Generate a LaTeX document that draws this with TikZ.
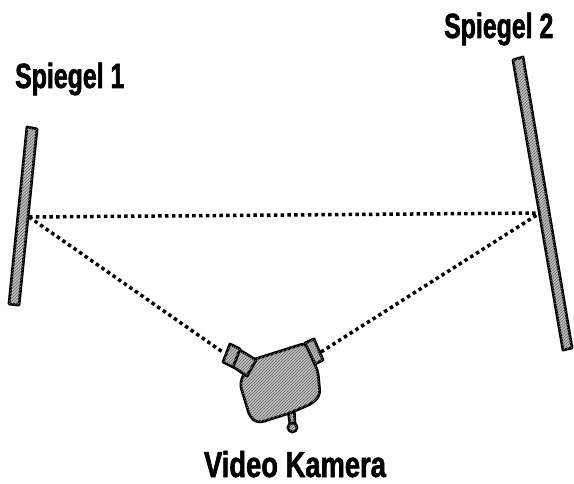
\documentclass[tikz,border=0pt]{standalone}
\usepackage{fontspec}
\newfontfamily\labelfont{Liberation Sans}[FakeStretch=0.76, FakeBold=1.6]
\newfontfamily\mirrorfont{Liberation Sans}[FakeStretch=0.71, FakeBold=1.6]
\usetikzlibrary{patterns}
\begin{document}
\begin{tikzpicture}[x=1pt,y=-1pt,
  hatchfill/.style={fill=gray!55, postaction={pattern=north east lines, pattern color=black!55}},
  outline/.style={draw=black, line width=2.8pt, line join=round},
  beam/.style={line width=3.5pt, dash pattern=on 3.5pt off 3.3pt},
  caption/.style={font=\mirrorfont\bfseries\fontsize{35}{37}\selectfont, inner sep=0pt}]
  \useasboundingbox (0,0) rectangle (574,484);

  % mirrors
  \draw[outline, hatchfill] (27,127) -- (37,129) -- (19,305) -- (9,304) -- cycle;
  \draw[outline, hatchfill] (513,60) -- (523,57) -- (572,348) -- (563,350) -- cycle;

  % reflection points and camera ports
  \coordinate (r1) at (29,217);
  \coordinate (r2) at (540,213);
  \coordinate (lens) at (224,353);
  \coordinate (eye) at (321,352);

  % light path
  \draw[beam] (r1) -- (r2);
  \draw[beam] (r1) -- (lens);
  \draw[beam] (eye) -- (r2);

  % video camera
  \draw[outline, hatchfill] (288,410) -- (290,424) -- (295,424) -- (294,408) -- cycle;
  \draw[outline, hatchfill] (292.5,427.5) circle (4.5);
  \draw[outline, hatchfill, rounded corners=5pt]
    (249,361) -- (306,343) -- (318,372) -- (320,395) -- (313,403)
    -- (290,413) -- (258,423) -- (250,417) -- (240,384) -- cycle;
  \draw[outline, hatchfill] (238,349) -- (256,360) -- (247,376) -- (232,366) -- cycle;
  \draw[outline, hatchfill] (230,344) -- (240,349) -- (233,367) -- (223,362) -- cycle;
  \draw[outline, hatchfill] (305,343) -- (314,339) -- (323,360) -- (315,364) -- cycle;

  % labels
  \node[caption, anchor=base west] (lab1) at (15,88) {Spiegel 1};
  \node[caption, anchor=base west] (lab2) at (444,38) {Spiegel 2};
  \node[caption, font=\labelfont\bfseries\fontsize{36}{38}\selectfont, anchor=base] (lab3) at (295,477) {Video Kamera};
\end{tikzpicture}
\end{document}
